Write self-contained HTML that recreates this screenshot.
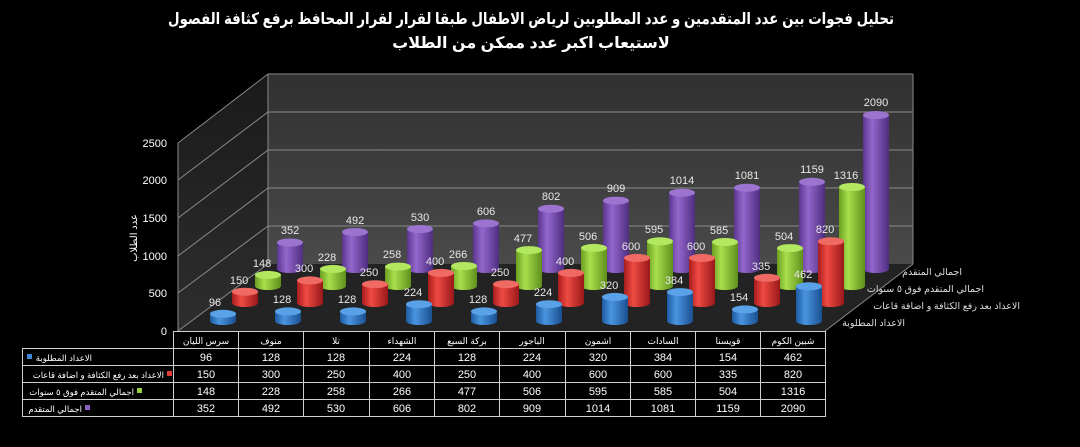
<!DOCTYPE html>
<html><head><meta charset="utf-8"><style>
html,body{margin:0;padding:0;background:#000;}
svg{display:block}
text{font-family:"Liberation Sans","DejaVu Sans",sans-serif;}
</style></head><body>
<svg width="1080" height="447" viewBox="0 0 1080 447" xmlns="http://www.w3.org/2000/svg">
<defs>
<linearGradient id="gB" x1="0" x2="1"><stop offset="0" stop-color="#1d5aa0"/><stop offset="0.35" stop-color="#4a95e0"/><stop offset="1" stop-color="#1a4f90"/></linearGradient>
<linearGradient id="gR" x1="0" x2="1"><stop offset="0" stop-color="#a81c1c"/><stop offset="0.35" stop-color="#ef4a44"/><stop offset="1" stop-color="#981818"/></linearGradient>
<linearGradient id="gG" x1="0" x2="1"><stop offset="0" stop-color="#6a9e22"/><stop offset="0.35" stop-color="#a8df4c"/><stop offset="1" stop-color="#5f901c"/></linearGradient>
<linearGradient id="gP" x1="0" x2="1"><stop offset="0" stop-color="#5a3690"/><stop offset="0.35" stop-color="#9466cc"/><stop offset="1" stop-color="#4e2e80"/></linearGradient>
<linearGradient id="wall" x1="0" y1="0" x2="0" y2="1"><stop offset="0" stop-color="#303030"/><stop offset="1" stop-color="#4a4a4a"/></linearGradient>
<linearGradient id="side" x1="0" y1="0" x2="0" y2="1"><stop offset="0" stop-color="#1a1a1a"/><stop offset="1" stop-color="#2e2e2e"/></linearGradient>
</defs>
<text x="531" y="24" fill="#fff" font-size="16" font-weight="bold" text-anchor="middle" textLength="726" lengthAdjust="spacingAndGlyphs">تحليل فجوات بين عدد المتقدمين و عدد المطلوبين لرياض الاطفال طبقا لقرار لقرار المحافظ برفع كثافة الفصول</text>
<text x="531" y="48" fill="#fff" font-size="16" font-weight="bold" text-anchor="middle">لاستيعاب اكبر عدد ممكن من الطلاب</text>

<polygon points="268,74 913,74 913,264 268,264" fill="url(#wall)"/>
<polygon points="178,143 268,74 268,264 178,331" fill="url(#side)"/>
<polygon points="178,331 825,331 913,264 268,264" fill="#232323"/>
<g stroke="#8a8a8a" stroke-width="1" fill="none">
<line x1="268" y1="74" x2="913" y2="74"/><line x1="268" y1="112" x2="913" y2="112"/><line x1="268" y1="150" x2="913" y2="150"/><line x1="268" y1="188" x2="913" y2="188"/><line x1="268" y1="226" x2="913" y2="226"/>
<line x1="178" y1="143" x2="268" y2="74"/><line x1="178" y1="180" x2="268" y2="112"/><line x1="178" y1="218" x2="268" y2="150"/><line x1="178" y1="256" x2="268" y2="188"/><line x1="178" y1="293" x2="268" y2="226"/><line x1="178" y1="331" x2="268" y2="264"/>
<line x1="178" y1="143" x2="178" y2="331"/><line x1="268" y1="74" x2="268" y2="264"/>
<line x1="825" y1="331" x2="913" y2="264"/><line x1="913" y1="74" x2="913" y2="264"/>
</g>
<g fill="#fff" font-size="11" text-anchor="end">
<text x="167" y="147">2500</text><text x="167" y="184">2000</text><text x="167" y="222">1500</text><text x="167" y="260">1000</text><text x="167" y="297">500</text><text x="167" y="335">0</text>
</g>
<text transform="translate(137,238) rotate(-90)" fill="#fff" font-size="10" text-anchor="middle">عدد الطلاب</text>

<g fill="#ddd" font-size="9.5">
<text x="962" y="275" text-anchor="end">اجمالي المتقدم</text>
<text x="984" y="292" text-anchor="end">اجمالي المتقدم فوق ٥ سنوات</text>
<text x="1020" y="309" text-anchor="end">الاعداد بعد رفع الكثافة و اضافة قاعات</text>
<text x="905" y="326" text-anchor="end">الاعداد المطلوبة</text>
</g>

<g font-size="11" fill="#e8e8e8" text-anchor="middle">
<g transform="translate(290,269)"><rect x="-13" y="-26.5" width="26" height="26.5" fill="url(#gP)"/><ellipse cy="0" rx="13" ry="4" fill="url(#gP)"/><ellipse cy="-26.5" rx="13" ry="4" fill="#9c74d0"/><text y="-35">352</text></g>
<g transform="translate(355,269)"><rect x="-13" y="-37" width="26" height="37" fill="url(#gP)"/><ellipse cy="0" rx="13" ry="4" fill="url(#gP)"/><ellipse cy="-37" rx="13" ry="4" fill="#9c74d0"/><text y="-45">492</text></g>
<g transform="translate(420,269)"><rect x="-13" y="-40" width="26" height="40" fill="url(#gP)"/><ellipse cy="0" rx="13" ry="4" fill="url(#gP)"/><ellipse cy="-40" rx="13" ry="4" fill="#9c74d0"/><text y="-48">530</text></g>
<g transform="translate(486,269)"><rect x="-13" y="-45.6" width="26" height="45.6" fill="url(#gP)"/><ellipse cy="0" rx="13" ry="4" fill="url(#gP)"/><ellipse cy="-45.6" rx="13" ry="4" fill="#9c74d0"/><text y="-54">606</text></g>
<g transform="translate(551,269)"><rect x="-13" y="-60.3" width="26" height="60.3" fill="url(#gP)"/><ellipse cy="0" rx="13" ry="4" fill="url(#gP)"/><ellipse cy="-60.3" rx="13" ry="4" fill="#9c74d0"/><text y="-69">802</text></g>
<g transform="translate(616,269)"><rect x="-13" y="-68.4" width="26" height="68.4" fill="url(#gP)"/><ellipse cy="0" rx="13" ry="4" fill="url(#gP)"/><ellipse cy="-68.4" rx="13" ry="4" fill="#9c74d0"/><text y="-77">909</text></g>
<g transform="translate(682,269)"><rect x="-13" y="-76.3" width="26" height="76.3" fill="url(#gP)"/><ellipse cy="0" rx="13" ry="4" fill="url(#gP)"/><ellipse cy="-76.3" rx="13" ry="4" fill="#9c74d0"/><text y="-85">1014</text></g>
<g transform="translate(747,269)"><rect x="-13" y="-81.3" width="26" height="81.3" fill="url(#gP)"/><ellipse cy="0" rx="13" ry="4" fill="url(#gP)"/><ellipse cy="-81.3" rx="13" ry="4" fill="#9c74d0"/><text y="-90">1081</text></g>
<g transform="translate(812,269)"><rect x="-13" y="-87.2" width="26" height="87.2" fill="url(#gP)"/><ellipse cy="0" rx="13" ry="4" fill="url(#gP)"/><ellipse cy="-87.2" rx="13" ry="4" fill="#9c74d0"/><text y="-96">1159</text></g>
<g transform="translate(876,269)"><rect x="-13" y="-154" width="26" height="154" fill="url(#gP)"/><ellipse cy="0" rx="13" ry="4" fill="url(#gP)"/><ellipse cy="-154" rx="13" ry="4" fill="#9c74d0"/><text y="-163">2090</text></g>
</g>
<g font-size="11" fill="#e8e8e8" text-anchor="middle">
<g transform="translate(268,286)"><rect x="-13" y="-11.1" width="26" height="11.1" fill="url(#gG)"/><ellipse cy="0" rx="13" ry="4" fill="url(#gG)"/><ellipse cy="-11.1" rx="13" ry="4" fill="#b2e860"/><text y="-19" x="-6">148</text></g>
<g transform="translate(333,286)"><rect x="-13" y="-17.1" width="26" height="17.1" fill="url(#gG)"/><ellipse cy="0" rx="13" ry="4" fill="url(#gG)"/><ellipse cy="-17.1" rx="13" ry="4" fill="#b2e860"/><text y="-25" x="-6">228</text></g>
<g transform="translate(398,286)"><rect x="-13" y="-19.4" width="26" height="19.4" fill="url(#gG)"/><ellipse cy="0" rx="13" ry="4" fill="url(#gG)"/><ellipse cy="-19.4" rx="13" ry="4" fill="#b2e860"/><text y="-28" x="-6">258</text></g>
<g transform="translate(464,286)"><rect x="-13" y="-20" width="26" height="20" fill="url(#gG)"/><ellipse cy="0" rx="13" ry="4" fill="url(#gG)"/><ellipse cy="-20" rx="13" ry="4" fill="#b2e860"/><text y="-28" x="-6">266</text></g>
<g transform="translate(529,286)"><rect x="-13" y="-35.9" width="26" height="35.9" fill="url(#gG)"/><ellipse cy="0" rx="13" ry="4" fill="url(#gG)"/><ellipse cy="-35.9" rx="13" ry="4" fill="#b2e860"/><text y="-44" x="-6">477</text></g>
<g transform="translate(594,286)"><rect x="-13" y="-38.1" width="26" height="38.1" fill="url(#gG)"/><ellipse cy="0" rx="13" ry="4" fill="url(#gG)"/><ellipse cy="-38.1" rx="13" ry="4" fill="#b2e860"/><text y="-46" x="-6">506</text></g>
<g transform="translate(660,286)"><rect x="-13" y="-44.7" width="26" height="44.7" fill="url(#gG)"/><ellipse cy="0" rx="13" ry="4" fill="url(#gG)"/><ellipse cy="-44.7" rx="13" ry="4" fill="#b2e860"/><text y="-53" x="-6">595</text></g>
<g transform="translate(725,286)"><rect x="-13" y="-44" width="26" height="44" fill="url(#gG)"/><ellipse cy="0" rx="13" ry="4" fill="url(#gG)"/><ellipse cy="-44" rx="13" ry="4" fill="#b2e860"/><text y="-52" x="-6">585</text></g>
<g transform="translate(790,286)"><rect x="-13" y="-37.9" width="26" height="37.9" fill="url(#gG)"/><ellipse cy="0" rx="13" ry="4" fill="url(#gG)"/><ellipse cy="-37.9" rx="13" ry="4" fill="#b2e860"/><text y="-46" x="-6">504</text></g>
<g transform="translate(852,286)"><rect x="-13" y="-99" width="26" height="99" fill="url(#gG)"/><ellipse cy="0" rx="13" ry="4" fill="url(#gG)"/><ellipse cy="-99" rx="13" ry="4" fill="#b2e860"/><text y="-107" x="-6">1316</text></g>
</g>
<g font-size="11" fill="#e8e8e8" text-anchor="middle">
<g transform="translate(245,303)"><rect x="-13" y="-11.3" width="26" height="11.3" fill="url(#gR)"/><ellipse cy="0" rx="13" ry="4" fill="url(#gR)"/><ellipse cy="-11.3" rx="13" ry="4" fill="#f06a64"/><text y="-19" x="-6">150</text></g>
<g transform="translate(310,303)"><rect x="-13" y="-22.6" width="26" height="22.6" fill="url(#gR)"/><ellipse cy="0" rx="13" ry="4" fill="url(#gR)"/><ellipse cy="-22.6" rx="13" ry="4" fill="#f06a64"/><text y="-31" x="-6">300</text></g>
<g transform="translate(375,303)"><rect x="-13" y="-18.8" width="26" height="18.8" fill="url(#gR)"/><ellipse cy="0" rx="13" ry="4" fill="url(#gR)"/><ellipse cy="-18.8" rx="13" ry="4" fill="#f06a64"/><text y="-27" x="-6">250</text></g>
<g transform="translate(441,303)"><rect x="-13" y="-30.1" width="26" height="30.1" fill="url(#gR)"/><ellipse cy="0" rx="13" ry="4" fill="url(#gR)"/><ellipse cy="-30.1" rx="13" ry="4" fill="#f06a64"/><text y="-38" x="-6">400</text></g>
<g transform="translate(506,303)"><rect x="-13" y="-18.8" width="26" height="18.8" fill="url(#gR)"/><ellipse cy="0" rx="13" ry="4" fill="url(#gR)"/><ellipse cy="-18.8" rx="13" ry="4" fill="#f06a64"/><text y="-27" x="-6">250</text></g>
<g transform="translate(571,303)"><rect x="-13" y="-30.1" width="26" height="30.1" fill="url(#gR)"/><ellipse cy="0" rx="13" ry="4" fill="url(#gR)"/><ellipse cy="-30.1" rx="13" ry="4" fill="#f06a64"/><text y="-38" x="-6">400</text></g>
<g transform="translate(637,303)"><rect x="-13" y="-45.1" width="26" height="45.1" fill="url(#gR)"/><ellipse cy="0" rx="13" ry="4" fill="url(#gR)"/><ellipse cy="-45.1" rx="13" ry="4" fill="#f06a64"/><text y="-53" x="-6">600</text></g>
<g transform="translate(702,303)"><rect x="-13" y="-45.1" width="26" height="45.1" fill="url(#gR)"/><ellipse cy="0" rx="13" ry="4" fill="url(#gR)"/><ellipse cy="-45.1" rx="13" ry="4" fill="#f06a64"/><text y="-53" x="-6">600</text></g>
<g transform="translate(767,303)"><rect x="-13" y="-25.2" width="26" height="25.2" fill="url(#gR)"/><ellipse cy="0" rx="13" ry="4" fill="url(#gR)"/><ellipse cy="-25.2" rx="13" ry="4" fill="#f06a64"/><text y="-33" x="-6">335</text></g>
<g transform="translate(831,303)"><rect x="-13" y="-61.7" width="26" height="61.7" fill="url(#gR)"/><ellipse cy="0" rx="13" ry="4" fill="url(#gR)"/><ellipse cy="-61.7" rx="13" ry="4" fill="#f06a64"/><text y="-70" x="-6">820</text></g>
</g>
<g font-size="11" fill="#e8e8e8" text-anchor="middle">
<g transform="translate(223,321)"><rect x="-13" y="-7.2" width="26" height="7.2" fill="url(#gB)"/><ellipse cy="0" rx="13" ry="4" fill="url(#gB)"/><ellipse cy="-7.2" rx="13" ry="4" fill="#5aa2e8"/><text y="-15" x="-8">96</text></g>
<g transform="translate(288,321)"><rect x="-13" y="-9.6" width="26" height="9.6" fill="url(#gB)"/><ellipse cy="0" rx="13" ry="4" fill="url(#gB)"/><ellipse cy="-9.6" rx="13" ry="4" fill="#5aa2e8"/><text y="-18" x="-6">128</text></g>
<g transform="translate(353,321)"><rect x="-13" y="-9.6" width="26" height="9.6" fill="url(#gB)"/><ellipse cy="0" rx="13" ry="4" fill="url(#gB)"/><ellipse cy="-9.6" rx="13" ry="4" fill="#5aa2e8"/><text y="-18" x="-6">128</text></g>
<g transform="translate(419,321)"><rect x="-13" y="-16.8" width="26" height="16.8" fill="url(#gB)"/><ellipse cy="0" rx="13" ry="4" fill="url(#gB)"/><ellipse cy="-16.8" rx="13" ry="4" fill="#5aa2e8"/><text y="-25" x="-6">224</text></g>
<g transform="translate(484,321)"><rect x="-13" y="-9.6" width="26" height="9.6" fill="url(#gB)"/><ellipse cy="0" rx="13" ry="4" fill="url(#gB)"/><ellipse cy="-9.6" rx="13" ry="4" fill="#5aa2e8"/><text y="-18" x="-6">128</text></g>
<g transform="translate(549,321)"><rect x="-13" y="-16.8" width="26" height="16.8" fill="url(#gB)"/><ellipse cy="0" rx="13" ry="4" fill="url(#gB)"/><ellipse cy="-16.8" rx="13" ry="4" fill="#5aa2e8"/><text y="-25" x="-6">224</text></g>
<g transform="translate(615,321)"><rect x="-13" y="-24.1" width="26" height="24.1" fill="url(#gB)"/><ellipse cy="0" rx="13" ry="4" fill="url(#gB)"/><ellipse cy="-24.1" rx="13" ry="4" fill="#5aa2e8"/><text y="-32" x="-6">320</text></g>
<g transform="translate(680,321)"><rect x="-13" y="-28.9" width="26" height="28.9" fill="url(#gB)"/><ellipse cy="0" rx="13" ry="4" fill="url(#gB)"/><ellipse cy="-28.9" rx="13" ry="4" fill="#5aa2e8"/><text y="-37" x="-6">384</text></g>
<g transform="translate(745,321)"><rect x="-13" y="-11.6" width="26" height="11.6" fill="url(#gB)"/><ellipse cy="0" rx="13" ry="4" fill="url(#gB)"/><ellipse cy="-11.6" rx="13" ry="4" fill="#5aa2e8"/><text y="-20" x="-6">154</text></g>
<g transform="translate(809,321)"><rect x="-13" y="-34.7" width="26" height="34.7" fill="url(#gB)"/><ellipse cy="0" rx="13" ry="4" fill="url(#gB)"/><ellipse cy="-34.7" rx="13" ry="4" fill="#5aa2e8"/><text y="-43" x="-6">462</text></g>
</g>

<g stroke="#cfcfcf" stroke-width="1" fill="none">
<line x1="173" y1="331.5" x2="826" y2="331.5"/>
<line x1="22" y1="348.5" x2="826" y2="348.5"/>
<line x1="22" y1="365.5" x2="826" y2="365.5"/>
<line x1="22" y1="382.5" x2="826" y2="382.5"/>
<line x1="22" y1="399.5" x2="826" y2="399.5"/>
<line x1="22" y1="416.5" x2="826" y2="416.5"/>
<line x1="22.5" y1="348" x2="22.5" y2="417"/>
<line x1="173.5" y1="331" x2="173.5" y2="417"/>
<line x1="238.5" y1="331" x2="238.5" y2="417"/>
<line x1="303.5" y1="331" x2="303.5" y2="417"/>
<line x1="369.5" y1="331" x2="369.5" y2="417"/>
<line x1="434.5" y1="331" x2="434.5" y2="417"/>
<line x1="499.5" y1="331" x2="499.5" y2="417"/>
<line x1="565.5" y1="331" x2="565.5" y2="417"/>
<line x1="630.5" y1="331" x2="630.5" y2="417"/>
<line x1="695.5" y1="331" x2="695.5" y2="417"/>
<line x1="760.5" y1="331" x2="760.5" y2="417"/>
<line x1="825.5" y1="331" x2="825.5" y2="417"/>
</g>
<g fill="#fff" font-size="9" text-anchor="middle">
<text x="206" y="344">سرس الليان</text><text x="271" y="344">منوف</text><text x="336" y="344">تلا</text><text x="402" y="344">الشهداء</text><text x="467" y="344">بركة السبع</text><text x="532" y="344">الباجور</text><text x="598" y="344">اشمون</text><text x="663" y="344">السادات</text><text x="728" y="344">قويسنا</text><text x="793" y="344">شبين الكوم</text>
</g>
<g fill="#fff" font-size="8.5" text-anchor="end">
<text x="92" y="361">الاعداد المطلوبة</text>
<text x="164" y="378">الاعداد بعد رفع الكثافة و اضافة قاعات</text>
<text x="134" y="395">اجمالي المتقدم فوق ٥ سنوات</text>
<text x="82" y="412">اجمالي المتقدم</text>
</g>
<rect x="27" y="354" width="5" height="5" fill="#3f86d4"/>
<rect x="167" y="371" width="5" height="5" fill="#e03a36"/>
<rect x="137" y="388" width="5" height="5" fill="#9ad044"/>
<rect x="85" y="405" width="5" height="5" fill="#8a5ec0"/>
<g fill="#fff" font-size="11" text-anchor="middle">
<text x="206" y="361">96</text><text x="271" y="361">128</text><text x="336" y="361">128</text><text x="402" y="361">224</text><text x="467" y="361">128</text><text x="532" y="361">224</text><text x="598" y="361">320</text><text x="663" y="361">384</text><text x="728" y="361">154</text><text x="793" y="361">462</text>
<text x="206" y="378">150</text><text x="271" y="378">300</text><text x="336" y="378">250</text><text x="402" y="378">400</text><text x="467" y="378">250</text><text x="532" y="378">400</text><text x="598" y="378">600</text><text x="663" y="378">600</text><text x="728" y="378">335</text><text x="793" y="378">820</text>
<text x="206" y="395">148</text><text x="271" y="395">228</text><text x="336" y="395">258</text><text x="402" y="395">266</text><text x="467" y="395">477</text><text x="532" y="395">506</text><text x="598" y="395">595</text><text x="663" y="395">585</text><text x="728" y="395">504</text><text x="793" y="395">1316</text>
<text x="206" y="412">352</text><text x="271" y="412">492</text><text x="336" y="412">530</text><text x="402" y="412">606</text><text x="467" y="412">802</text><text x="532" y="412">909</text><text x="598" y="412">1014</text><text x="663" y="412">1081</text><text x="728" y="412">1159</text><text x="793" y="412">2090</text>
</g>
</svg>
</body></html>
